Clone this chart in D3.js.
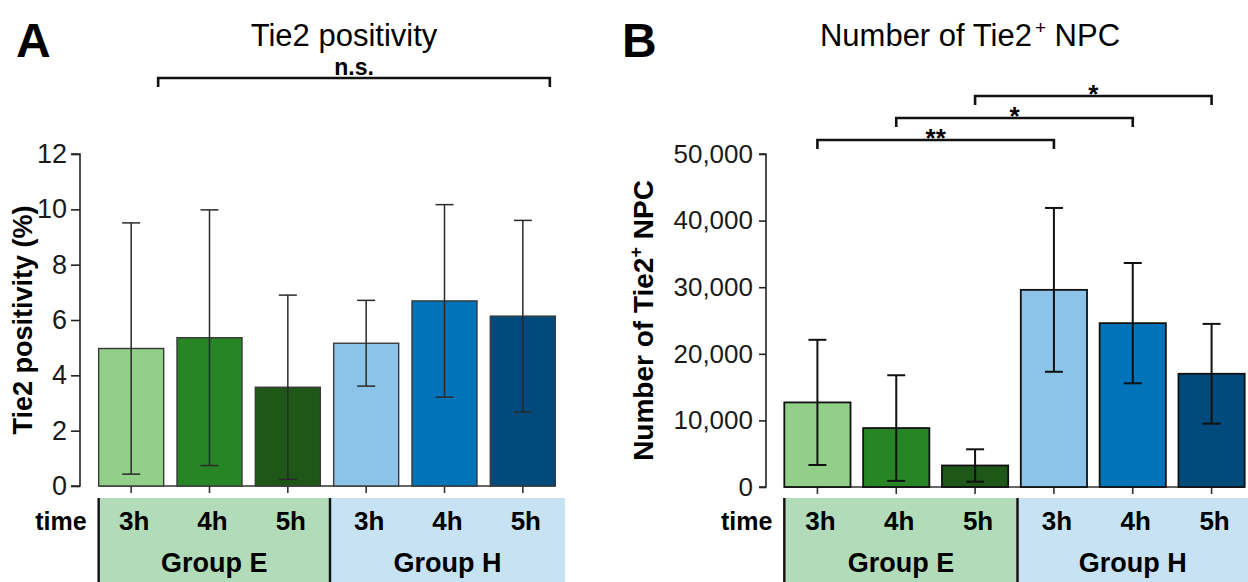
<!DOCTYPE html>
<html>
<head>
<meta charset="utf-8">
<script src="https://cdn.jsdelivr.net/npm/d3@7"></script>
<style>
  body { margin: 0; background: #fff; }
  svg { display: block; font-family: "Liberation Sans", Arial, Helvetica, sans-serif; }
</style>
</head>
<body>
<svg id="chart" width="1248" height="582"></svg>
<script>
// ---- data ----
const hours   = ["3h", "4h", "5h", "3h", "4h", "5h"]
const groups  = ["Group E", "Group H"]
const colors  = ["#92cf89", "#288526", "#1f5719", "#8bc4e8", "#0073b9", "#004b7c"]

// panel A: Tie2 positivity (%)
const posMean = [4.97, 5.36, 3.57, 5.16, 6.69, 6.14]
const posSd   = [4.54, 4.62, 3.33, 1.55, 3.48, 3.46]
const posTicks = [0, 2, 4, 6, 8, 10, 12]

// panel B: number of Tie2+ NPC
const npcMean = [12700, 8850, 3230, 29600, 24600, 17000]
const npcSd   = [9400, 7930, 2430, 12300, 9030, 7490]
const npcTicks = [0, 10000, 20000, 30000, 40000, 50000]

// significance brackets: [from, to, label]
const sigA = [[0, 5, "n.s."]]
const sigB = [[0, 3, "**"], [1, 4, "*"], [2, 5, "*"]]

const groupBg = ["#b1dbb9", "#c6e2f3"]

const svg = d3.select("#chart")
const idx = d3.range(hours.length)

function panel(opt) {
    const g = svg.append("g")
    const x = d3.scaleBand().domain(idx).range(opt.xRange)
        .paddingInner(opt.padIn).paddingOuter(opt.padOut)
    const y = d3.scaleLinear().domain(opt.yDomain).range([opt.y0, opt.y1])
    const bw = x.bandwidth()

    // panel letter + title
    g.append("text").attr("x", opt.letterX).attr("y", 57)
        .attr("font-size", 48).attr("font-weight", "bold").text(opt.letter)
    const t = g.append("text").attr("x", opt.titleX).attr("y", 46)
        .attr("font-size", 31).attr("text-anchor", "middle")
    opt.title(t)

    // y axis
    const ax = g.append("g").attr("transform", `translate(${opt.axisX},0)`)
        .call(d3.axisLeft(y).tickValues(opt.ticks).tickSize(opt.tickLen)
            .tickPadding(opt.tickPad).tickFormat(opt.fmt))
    ax.selectAll("path, line").attr("stroke", "#222").attr("stroke-width", 1.6)
    ax.select(".domain").attr("d", `M${-opt.tickLen},${y(opt.yDomain[1])}H0V${y(0)}H${-opt.tickLen}`)
    ax.selectAll("text").attr("font-size", opt.tickFont).attr("fill", "#1a1a1a")
        .attr("font-family", "Liberation Sans, Arial, sans-serif")

    // y title
    const yt = g.append("text")
        .attr("transform", `translate(${opt.yTitleX},${(opt.y0 + opt.y1) / 2}) rotate(-90)`)
        .attr("text-anchor", "middle").attr("font-weight", "bold").attr("font-size", opt.yTitleFont)
    opt.yTitle(yt)

    // baseline + x ticks
    g.append("line")
        .attr("x1", x(0)).attr("x2", x(5) + bw)
        .attr("y1", y(0)).attr("y2", y(0))
        .attr("stroke", "#333").attr("stroke-width", 1.6)
    g.selectAll(".xt").data(idx).join("line")
        .attr("x1", i => x(i) + bw / 2).attr("x2", i => x(i) + bw / 2)
        .attr("y1", y(0)).attr("y2", y(0) + 7)
        .attr("stroke", "#333").attr("stroke-width", 1.6)

    // bars
    g.selectAll(".bar").data(idx).join("rect")
        .attr("x", i => x(i)).attr("width", bw)
        .attr("y", i => y(opt.mean[i])).attr("height", i => y(0) - y(opt.mean[i]))
        .attr("fill", i => colors[i])
        .attr("stroke", opt.barStroke).attr("stroke-width", opt.barStrokeW)

    // error bars
    const eb = g.selectAll(".eb").data(idx).join("g")
        .attr("transform", i => `translate(${x(i) + bw / 2},0)`)
        .attr("stroke", opt.errColor).attr("stroke-width", opt.errW)
    eb.append("line")
        .attr("y1", i => y(opt.mean[i] + opt.sd[i])).attr("y2", i => y(opt.mean[i] - opt.sd[i]))
    eb.append("line").attr("x1", -9).attr("x2", 9)
        .attr("y1", i => y(opt.mean[i] + opt.sd[i])).attr("y2", i => y(opt.mean[i] + opt.sd[i]))
    eb.append("line").attr("x1", -9).attr("x2", 9)
        .attr("y1", i => y(opt.mean[i] - opt.sd[i])).attr("y2", i => y(opt.mean[i] - opt.sd[i]))

    // significance brackets
    opt.sig.forEach(([a, b, lab], k) => {
        const xa = x(a) + bw / 2 + opt.sigShift
        const xb = x(b) + bw / 2 + opt.sigShift
        const yy = opt.sigY - k * opt.sigStep
        g.append("path")
            .attr("d", `M${xa},${yy + 9}V${yy}H${xb}V${yy + 9}`)
            .attr("fill", "none").attr("stroke", "#111").attr("stroke-width", 2.6)
        g.append("text").attr("x", (xa + xb) / 2).attr("y", lab === "n.s." ? yy - 3 : yy + 7)
            .attr("text-anchor", "middle").attr("font-weight", "bold")
            .attr("font-size", lab === "n.s." ? 23 : 26).text(lab)
    })

    // group table
    const top = 498
    const left = x(0)
    const sep = (x(2) + bw + x(3)) / 2 + 3
    const right = opt.tableRight
    const boxes = [[left, sep], [sep, right]]
    g.selectAll(".box").data(groups).join("rect")
        .attr("x", (d, i) => boxes[i][0]).attr("width", (d, i) => boxes[i][1] - boxes[i][0])
        .attr("y", top).attr("height", 582 - top)
        .attr("fill", (d, i) => groupBg[i])
    ;[left, sep].forEach(xx => g.append("line")
        .attr("x1", xx).attr("x2", xx).attr("y1", top).attr("y2", 582)
        .attr("stroke", "#111").attr("stroke-width", 2.4))
    g.append("text").attr("x", left - 12).attr("y", 530)
        .attr("text-anchor", "end").attr("font-weight", "bold").attr("font-size", 25).text("time")
    g.selectAll(".hr").data(idx).join("text")
        .attr("x", i => x(i) + bw / 2 + 3).attr("y", 530)
        .attr("text-anchor", "middle").attr("font-weight", "bold").attr("font-size", 26)
        .text(i => hours[i])
    g.selectAll(".grp").data(groups).join("text")
        .attr("x", (d, i) => (boxes[i][0] + boxes[i][1]) / 2).attr("y", 572)
        .attr("text-anchor", "middle").attr("font-weight", "bold").attr("font-size", 27)
        .text(d => d)
}

panel({
    letter: "A", letterX: 16, titleX: 344,
    title: t => t.text("Tie2 positivity"),
    xRange: [92, 562], padIn: 0.17, padOut: 0.085,
    yDomain: [0, 12], y0: 486, y1: 154, ticks: posTicks, fmt: d3.format("d"),
    axisX: 80, tickLen: 9, tickPad: 4, tickFont: 27,
    yTitleX: 32, yTitleFont: 27,
    yTitle: t => t.text("Tie2 positivity (%)"),
    mean: posMean, sd: posSd,
    barStroke: "#3a3a3a", barStrokeW: 1.4, errColor: "#2a2a2a", errW: 1.5,
    sig: sigA, sigShift: 27, sigY: 78, sigStep: 0,
    tableRight: 565
})

panel({
    letter: "B", letterX: 622, titleX: 970,
    title: t => {
        t.append("tspan").text("Number of Tie2")
        t.append("tspan").attr("font-size", 19).attr("dx", 3).attr("dy", -12).text("+")
        t.append("tspan").attr("dy", 12).text("  NPC")
    },
    xRange: [778, 1251], padIn: 0.16, padOut: 0.08,
    yDomain: [0, 50000], y0: 487, y1: 154, ticks: npcTicks, fmt: d3.format(","),
    axisX: 766, tickLen: 7, tickPad: 6, tickFont: 26,
    yTitleX: 653, yTitleFont: 28,
    yTitle: t => {
        t.append("tspan").text("Number of Tie2")
        t.append("tspan").attr("font-size", 18).attr("dy", -11).text("+")
        t.append("tspan").attr("dy", 11).text(" NPC")
    },
    mean: npcMean, sd: npcSd,
    barStroke: "#111", barStrokeW: 1.8, errColor: "#111", errW: 2,
    sig: sigB, sigShift: 0, sigY: 140, sigStep: 22,
    tableRight: 1248
})
</script>
</body>
</html>
